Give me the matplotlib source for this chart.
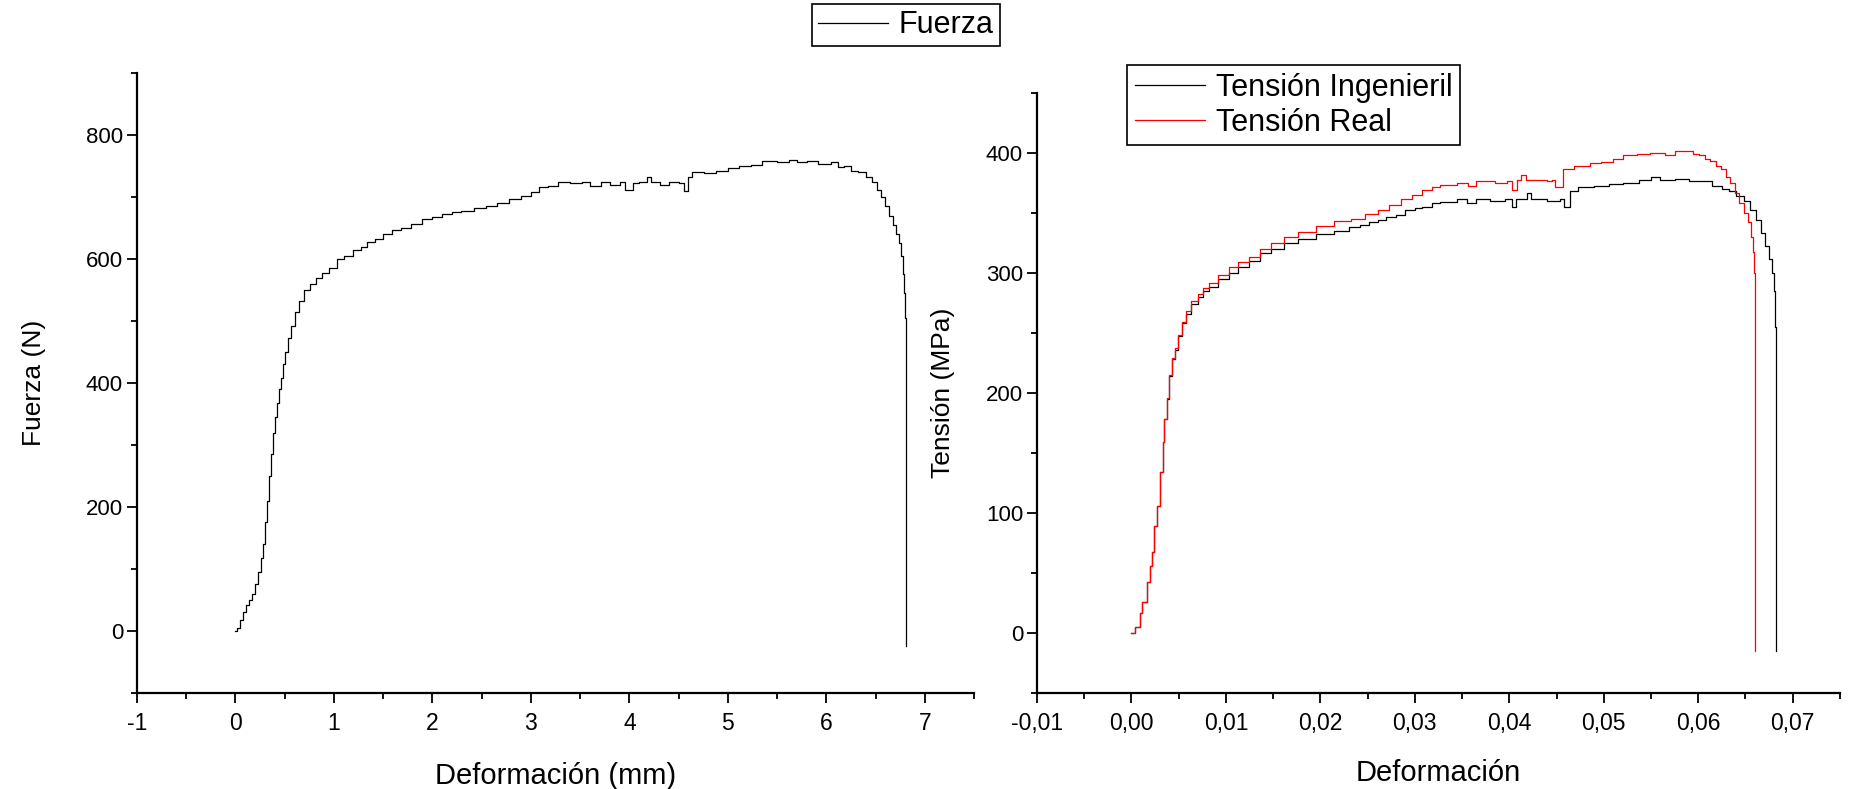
import matplotlib
matplotlib.use("Agg")
import matplotlib.pyplot as plt
from matplotlib.ticker import MultipleLocator, FuncFormatter

# Fuerza vs deformacion (mm)
def_mm = [0.00, 0.02, 0.05, 0.08, 0.11, 0.14, 0.17, 0.20, 0.23, 0.26,
          0.28, 0.30, 0.32, 0.34, 0.36, 0.38, 0.40, 0.42, 0.44, 0.46,
          0.48, 0.50, 0.53, 0.56, 0.60, 0.64, 0.70, 0.76, 0.82, 0.88,
          0.95, 1.03, 1.10, 1.19, 1.27, 1.34, 1.42, 1.50, 1.59, 1.68,
          1.78, 1.89, 2.00, 2.10, 2.20, 2.29, 2.42, 2.54, 2.66, 2.78,
          2.90, 3.00, 3.08, 3.17, 3.27, 3.40, 3.52, 3.60, 3.71, 3.80,
          3.90, 3.96, 4.04, 4.10, 4.18, 4.22, 4.31, 4.40, 4.50, 4.55,
          4.60, 4.64, 4.76, 4.88, 5.00, 5.11, 5.23, 5.35, 5.50, 5.62,
          5.70, 5.80, 5.92, 6.05, 6.12, 6.18, 6.25, 6.32, 6.40, 6.46,
          6.51, 6.55, 6.60, 6.64, 6.68, 6.71, 6.74, 6.76, 6.78, 6.79,
          6.80, 6.81]
fuerza = [0, 5, 18, 30, 42, 50, 60, 75, 95, 118,
          140, 175, 210, 250, 285, 320, 345, 368, 390, 408,
          430, 450, 472, 492, 515, 532, 550, 560, 570, 578,
          585, 600, 605, 614, 620, 628, 632, 640, 646, 650,
          656, 665, 668, 672, 676, 678, 682, 685, 690, 697,
          702, 708, 716, 718, 724, 722, 724, 718, 724, 720,
          724, 712, 722, 724, 733, 724, 720, 724, 722, 710,
          732, 740, 738, 742, 746, 750, 752, 758, 756, 760,
          756, 758, 754, 756, 748, 750, 742, 740, 732, 724,
          712, 700, 686, 670, 655, 640, 625, 605, 575, 545,
          505, -25]

# Tension ingenieril vs deformacion - right panel, black
def_ing = [0.0000, 0.0004, 0.0009, 0.0011, 0.0016, 0.0020, 0.0022, 0.0024, 0.0027, 0.0030,
           0.0033, 0.0035, 0.0038, 0.0040, 0.0043, 0.0046, 0.0049, 0.0054, 0.0058, 0.0063,
           0.0070, 0.0076, 0.0082, 0.0092, 0.0103, 0.0113, 0.0124, 0.0136, 0.0148, 0.0162,
           0.0176, 0.0195, 0.0214, 0.0230, 0.0242, 0.0252, 0.0261, 0.0270, 0.0280, 0.0290,
           0.0300, 0.0308, 0.0318, 0.0327, 0.0345, 0.0355, 0.0365, 0.0380, 0.0395, 0.0403,
           0.0407, 0.0414, 0.0419, 0.0423, 0.0440, 0.0454, 0.0458, 0.0464, 0.0473, 0.0490,
           0.0506, 0.0520, 0.0537, 0.0550, 0.0560, 0.0575, 0.0590, 0.0600, 0.0615, 0.0625,
           0.0633, 0.0640, 0.0648, 0.0655, 0.0661, 0.0666, 0.0671, 0.0675, 0.0678, 0.0680,
           0.0681, 0.0682]
tension_ing = [0, 5, 17, 26, 42, 56, 67, 89, 106, 134,
               159, 178, 195, 214, 228, 236, 247, 258, 266, 274,
               280, 285, 288, 295, 300, 305, 310, 316, 320, 325,
               328, 332, 335, 338, 340, 342, 344, 346, 348, 352,
               354, 355, 358, 359, 361, 358, 361, 360, 361, 355,
               361, 361, 366, 361, 360, 361, 355, 368, 371, 372,
               374, 375, 377, 380, 377, 378, 376, 376, 372, 370,
               368, 364, 360, 352, 344, 333, 322, 311, 300, 285,
               255, -15]

# Tension real vs deformacion real - right panel, red
def_real = [0.0000, 0.0004, 0.0009, 0.0011, 0.0016, 0.0020, 0.0022, 0.0024, 0.0027, 0.0030,
            0.0033, 0.0035, 0.0038, 0.0040, 0.0043, 0.0046, 0.0049, 0.0054, 0.0058, 0.0063,
            0.0070, 0.0076, 0.0082, 0.0092, 0.0103, 0.0113, 0.0124, 0.0136, 0.0148, 0.0162,
            0.0176, 0.0195, 0.0214, 0.0232, 0.0247, 0.0261, 0.0273, 0.0285, 0.0297, 0.0308,
            0.0318, 0.0327, 0.0345, 0.0356, 0.0365, 0.0385, 0.0398, 0.0403, 0.0408, 0.0412,
            0.0418, 0.0426, 0.0440, 0.0445, 0.0448, 0.0457, 0.0469, 0.0485, 0.0497, 0.0510,
            0.0520, 0.0535, 0.0549, 0.0565, 0.0575, 0.0587, 0.0594, 0.0601, 0.0607, 0.0613,
            0.0619, 0.0624, 0.0629, 0.0634, 0.0639, 0.0643, 0.0648, 0.0653, 0.0656, 0.0658,
            0.0659, 0.0660, 0.0660]
tension_real = [0, 5, 17, 26, 42, 56, 67, 89, 106, 134,
                159, 178, 196, 215, 229, 237, 248, 259, 268, 276,
                282, 287, 291, 298, 305, 309, 313, 320, 325, 330,
                334, 339, 343, 345, 349, 352, 356, 361, 365, 369,
                371, 373, 375, 372, 376, 375, 376, 369, 377, 381,
                377, 377, 376, 377, 371, 386, 389, 391, 392, 395,
                398, 399, 400, 398, 401, 401, 399, 398, 395, 393,
                389, 386, 380, 375, 366, 358, 350, 342, 330, 317,
                300, 272, -15]

plt.rcParams["font.family"] = ["Liberation Sans", "DejaVu Sans"]

fig = plt.figure(figsize=(18.54, 7.89), dpi=100)
ax1 = fig.add_axes([0.0739, 0.1217, 0.4515, 0.7858])
ax2 = fig.add_axes([0.5593, 0.1217, 0.4331, 0.7610])

l1, = ax1.plot(def_mm, fuerza, color="black", lw=0.9, drawstyle="steps-post", label="Fuerza")
l2, = ax2.plot(def_ing, tension_ing, color="black", lw=0.9, drawstyle="steps-post",
               label="Tensión Ingenieril")
l3, = ax2.plot(def_real, tension_real, color="red", lw=0.9, drawstyle="steps-post",
               label="Tensión Real")

ax1.set_xlim(-1, 7.5)
ax1.set_ylim(-100, 900)
ax1.xaxis.set_major_locator(MultipleLocator(1))
ax1.xaxis.set_minor_locator(MultipleLocator(0.5))
ax1.yaxis.set_major_locator(MultipleLocator(200))
ax1.yaxis.set_minor_locator(MultipleLocator(100))
ax1.xaxis.set_major_formatter(FuncFormatter(lambda v, p: "%d" % round(v)))
ax1.yaxis.set_major_formatter(FuncFormatter(lambda v, p: "%d" % round(v)))

ax2.set_xlim(-0.01, 0.075)
ax2.set_ylim(-50, 450)
ax2.xaxis.set_major_locator(MultipleLocator(0.01))
ax2.xaxis.set_minor_locator(MultipleLocator(0.005))
ax2.yaxis.set_major_locator(MultipleLocator(100))
ax2.yaxis.set_minor_locator(MultipleLocator(50))
ax2.xaxis.set_major_formatter(FuncFormatter(lambda v, p: ("%.2f" % v).replace(".", ",").replace("-0,00", "0,00")))
ax2.yaxis.set_major_formatter(FuncFormatter(lambda v, p: "%d" % round(v)))

for ax in (ax1, ax2):
    ax.spines["top"].set_visible(False)
    ax.spines["right"].set_visible(False)
    ax.spines["left"].set_linewidth(1.6)
    ax.spines["bottom"].set_linewidth(1.6)
    ax.tick_params(which="major", direction="out", length=7, width=1.3, labelsize=16)
    ax.tick_params(axis="y", which="major", pad=3)
    ax.tick_params(axis="x", which="major", pad=7, labelsize=16.5)
    ax.tick_params(which="minor", direction="out", length=4, width=1.3)

ax1.set_xlabel("Deformación (mm)", fontsize=21, labelpad=19)
ax1.set_ylabel("Fuerza (N)", fontsize=19, labelpad=29)
ax2.set_xlabel("Deformación", fontsize=21, labelpad=17)
ax2.set_ylabel("Tensión (MPa)", fontsize=19, labelpad=22)

leg1 = fig.legend(handles=[l1], loc="center", bbox_to_anchor=(0.4886, 0.968), fontsize=22,
                  frameon=True, fancybox=False, handlelength=2.3, handletextpad=0.35,
                  borderpad=0.2, borderaxespad=0)
leg2 = fig.legend(handles=[l2, l3], loc="upper left", bbox_to_anchor=(0.608, 0.917), fontsize=22,
                  frameon=True, fancybox=False, handlelength=2.3, handletextpad=0.35,
                  borderpad=0.25, labelspacing=0.15, borderaxespad=0)
for leg in (leg1, leg2):
    leg.get_frame().set_edgecolor("black")
    leg.get_frame().set_linewidth(1.2)
    leg.get_frame().set_alpha(1)

fig.savefig("out.png", dpi=100)
